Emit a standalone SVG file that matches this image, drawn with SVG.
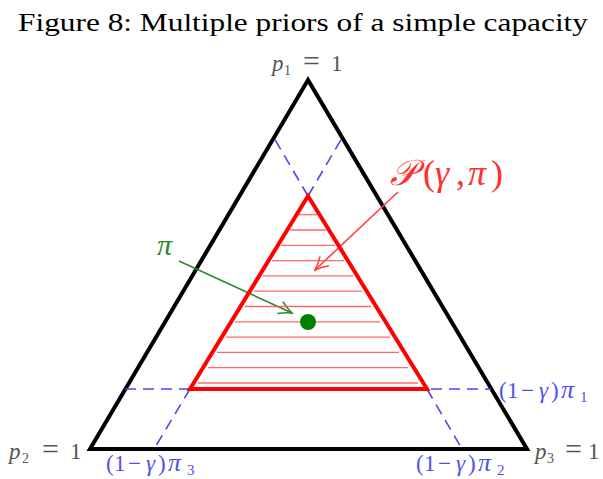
<svg xmlns="http://www.w3.org/2000/svg" width="603" height="479" viewBox="0 0 603 479">
<style>
.serif{font-family:"Liberation Serif","DejaVu Serif",serif}
.gray{fill:#555}
.blue{fill:#5050f0}
.it{font-style:italic}
.pi{font-style:italic;font-size:26px}
.dash{stroke:#4848f8;stroke-width:1.6;stroke-dasharray:11 7;fill:none}
.hatch{stroke:#ff5050;stroke-width:1.3;opacity:0.85}
</style>
<defs>
<marker id="ag" markerWidth="18" markerHeight="16" refX="16" refY="8" orient="auto" markerUnits="userSpaceOnUse">
<path d="M3,1.5 Q10,6 16,8 Q10,10 3,14.5" fill="none" stroke="#2a8a2a" stroke-width="1.6"/>
</marker>
<marker id="ar" markerWidth="18" markerHeight="16" refX="16" refY="8" orient="auto" markerUnits="userSpaceOnUse">
<path d="M3,1.5 Q10,6 16,8 Q10,10 3,14.5" fill="none" stroke="#ff4040" stroke-width="1.6"/>
</marker>
</defs>
<rect width="603" height="479" fill="#fff"/>
<text class="serif" x="18" y="31" font-size="26" textLength="570" lengthAdjust="spacingAndGlyphs">Figure 8: Multiple priors of a simple capacity</text>

<g id="outer-simplex">
<polygon points="308,80 90,449 527,449" fill="none" stroke="#000" stroke-width="4" stroke-linejoin="miter"/>
</g>

<g id="connectors">
<line class="dash" x1="125" y1="389" x2="491" y2="389"/>
<line class="dash" x1="190" y1="389" x2="154" y2="449"/>
<line class="dash" x1="427" y1="389" x2="462" y2="449"/>
<line class="dash" x1="308" y1="196" x2="274" y2="138"/>
<line class="dash" x1="308" y1="196" x2="342" y2="138"/>
<line x1="179" y1="261" x2="292" y2="313" stroke="#2a8a2a" stroke-width="1.6" marker-end="url(#ag)"/>
<line x1="398" y1="192" x2="315" y2="270" stroke="#ff4040" stroke-width="1.6" marker-end="url(#ar)"/>
</g>

<g id="core">
<g class="hatch">
<line x1="299" y1="214.7" x2="317" y2="214.7"/>
<line x1="290" y1="230" x2="326" y2="230"/>
<line x1="281" y1="245.3" x2="335" y2="245.3"/>
<line x1="272" y1="260.6" x2="344" y2="260.6"/>
<line x1="263" y1="275.9" x2="353" y2="275.9"/>
<line x1="254" y1="291.2" x2="362" y2="291.2"/>
<line x1="245" y1="306.5" x2="371" y2="306.5"/>
<line x1="235" y1="321.8" x2="380" y2="321.8"/>
<line x1="226" y1="337.1" x2="390" y2="337.1"/>
<line x1="217" y1="352.4" x2="399" y2="352.4"/>
<line x1="208" y1="367.7" x2="408" y2="367.7"/>
<line x1="198" y1="383" x2="418" y2="383"/>
</g>
<polygon points="308,196 190,389 427,389" fill="none" stroke="#ff0000" stroke-width="4"/>
</g>

<g id="prior">
<circle cx="308" cy="322" r="8" fill="#008000"/>
</g>

<g id="labels">
<text class="serif gray" y="71" font-size="23"><tspan class="it" x="272">p</tspan><tspan font-size="14" x="284" dy="4">1</tspan><tspan x="303" dy="-4" font-size="30">=</tspan><tspan x="331">1</tspan></text>
<text class="serif gray" y="459" font-size="23"><tspan class="it" x="9">p</tspan><tspan font-size="14" x="22" dy="4">2</tspan><tspan x="42" dy="-4" font-size="30">=</tspan><tspan x="70">1</tspan></text>
<text class="serif gray" y="459" font-size="23"><tspan class="it" x="535">p</tspan><tspan font-size="14" x="547" dy="4">3</tspan><tspan x="565" dy="-4" font-size="30">=</tspan><tspan x="588">1</tspan></text>
<text class="serif blue" y="398" font-size="23"><tspan x="499">(</tspan><tspan x="507">1</tspan><tspan x="521">−</tspan><tspan class="it" x="539">γ</tspan><tspan x="551">)</tspan><tspan class="pi" x="561">π</tspan><tspan font-size="15" x="580" dy="4">1</tspan></text>
<text class="serif blue" y="471" font-size="23"><tspan x="106">(</tspan><tspan x="114">1</tspan><tspan x="128">−</tspan><tspan class="it" x="146">γ</tspan><tspan x="158">)</tspan><tspan class="pi" x="168">π</tspan><tspan font-size="15" x="187" dy="4">3</tspan></text>
<text class="serif blue" y="471" font-size="23"><tspan x="416">(</tspan><tspan x="424">1</tspan><tspan x="438">−</tspan><tspan class="it" x="456">γ</tspan><tspan x="468">)</tspan><tspan class="pi" x="478">π</tspan><tspan font-size="15" x="497" dy="4">2</tspan></text>
<text class="serif" x="157" y="255" font-size="30" fill="#2a8a2a" font-style="italic">π</text>
<text class="serif" y="185" font-size="36" fill="#ff3030"><tspan class="it" x="390">𝒫</tspan><tspan x="423">(</tspan><tspan class="it" x="435">γ</tspan><tspan x="456">,</tspan><tspan class="it" x="468">π</tspan><tspan x="491">)</tspan></text>
</g>
</svg>
